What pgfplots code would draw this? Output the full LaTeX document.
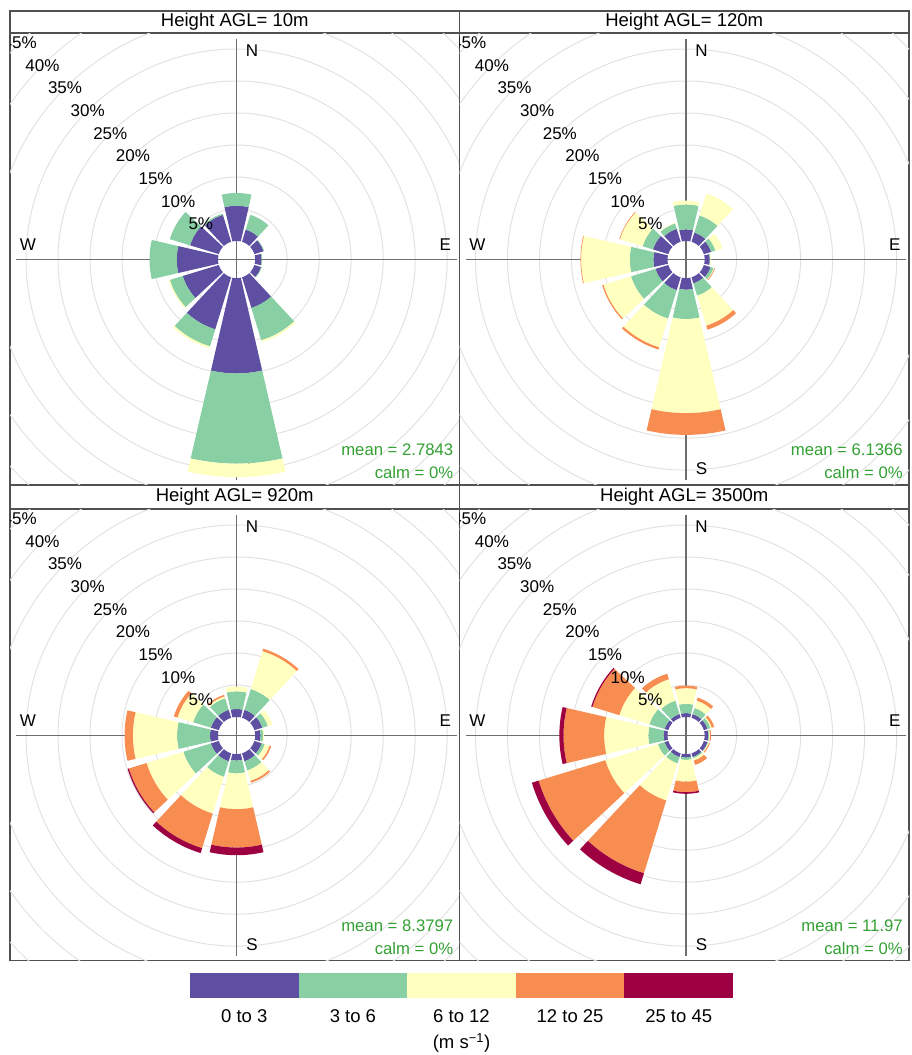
\documentclass[border=0pt]{standalone}
\usepackage{pgfplots}
\pgfplotsset{compat=1.18}
\usepackage{pgfplotstable}
\usepackage{fontspec}
\setmainfont{Liberation Sans}

\definecolor{bin1}{HTML}{5E4FA2}
\definecolor{bin2}{HTML}{88D0A4}
\definecolor{bin3}{HTML}{FFFFBF}
\definecolor{bin4}{HTML}{F88D52}
\definecolor{bin5}{HTML}{9E0142}
\definecolor{ringc}{HTML}{E2E2E2}
\definecolor{crossc}{HTML}{6E6E6E}
\definecolor{framec}{HTML}{505050}
\definecolor{meanc}{HTML}{33A033}

\newcommand\fTitle{\fontsize{18.5}{22}\selectfont}
\newcommand\fLab{\fontsize{17}{20}\selectfont}
\newcommand\fMean{\fontsize{16.7}{20}\selectfont}

% wedge outline (angle offset in degrees, f=1 outer arc, f=0 inner arc)
\pgfplotstableread{
a f
-13 1
-11 1
-9 1
-7 1
-5 1
-3 1
-1 1
1 1
3 1
5 1
7 1
9 1
11 1
13 1
13 0
11 0
9 0
7 0
5 0
3 0
1 0
-1 0
-3 0
-5 0
-7 0
-9 0
-11 0
-13 0
}\arcshape

% cumulative frequency (%) per direction sector: 0-3, 3-6, 6-12, 12-25, 25-45 m/s
\pgfplotstableread{
dir c1 c2 c3 c4 c5
0 5.5 7.5 7.5 7.5 7.5
30 2.0 4.4 4.4 4.4 4.4
60 1.5 1.6 1.6 1.6 1.6
90 1.0 1.1 1.1 1.1 1.1
120 1.1 1.2 1.2 1.2 1.2
150 5.0 10.3 10.6 10.6 10.6
180 14.9 29.0 31.1 31.1 31.1
210 8.5 11.3 11.6 11.6 11.6
240 5.9 8.0 8.2 8.2 8.2
270 6.45 10.7 10.7 10.7 10.7
300 4.7 8.0 8.0 8.0 8.0
330 4.4 4.6 4.6 4.6 4.6
}\tabA

\pgfplotstableread{
dir c1 c2 c3 c4 c5
0 1.8 5.7 6.3 6.3 6.3
30 1.5 4.3 7.85 7.85 7.85
60 1.2 1.9 3.05 3.05 3.05
90 0.8 0.9 1.0 1.0 1.0
120 1.1 1.6 1.7 1.8 1.8
150 1.0 3.0 7.9 8.55 8.55
180 1.8 6.4 21.1 24.5 24.5
210 2.1 6.75 11.45 11.8 11.8
240 2.1 6.1 10.6 10.8 10.8
270 2.2 5.9 13.5 13.6 13.6
300 2.5 4.2 7.9 8.0 8.0
330 2.1 3.0 3.1 3.1 3.1
}\tabB

\pgfplotstableread{
dir c1 c2 c3 c4 c5
0 1.25 4.0 4.75 4.75 4.75
30 1.3 4.7 10.9 11.3 11.3
60 1.3 2.2 2.95 2.95 2.95
90 0.85 1.25 1.4 1.4 1.4
120 1.2 1.7 2.5 2.75 2.75
150 1.3 2.8 4.5 4.8 4.8
180 1.0 3.0 8.6 14.6 15.8
210 1.3 3.85 9.85 15.5 16.3
240 1.3 5.8 11.8 14.7 14.9
270 1.25 6.4 13.3 14.6 14.6
300 1.3 4.2 6.75 7.35 7.35
330 1.3 3.2 3.5 3.75 3.75
}\tabC

\pgfplotstableread{
dir c1 c2 c3 c4 c5
0 0.6 2.05 4.5 4.9 4.9
30 0.6 1.6 2.8 3.3 3.3
60 0.6 1.1 1.3 1.7 1.7
90 0.6 0.7 0.85 1.0 1.0
120 0.6 0.7 0.85 1.0 1.0
150 0.6 0.8 1.2 1.9 1.9
180 0.5 0.9 4.3 5.95 6.2
210 0.6 1.65 7.7 19.6 21.4
240 0.6 1.7 10.3 21.2 22.3
270 0.6 3.0 9.9 16.25 16.9
300 0.6 3.1 8.0 12.4 12.6
330 0.6 2.8 6.3 7.2 7.2
}\tabD

\def\H{2.9}

\newcommand\drawrose[1]{%
  \pgfplotsforeachungrouped \i in {0,...,11}{%
    \pgfplotstablegetelem{\i}{dir}\of#1\let\dd\pgfplotsretval
    \def\prev{0}%
    \pgfplotsforeachungrouped \j in {1,...,5}{%
      \pgfplotstablegetelem{\i}{c\j}\of#1\let\cur\pgfplotsretval
      \pgfmathtruncatemacro\flag{\cur>\prev+0.001}%
      \ifnum\flag=1
        \pgfmathsetmacro\rin{\H+\prev}%
        \pgfmathsetmacro\rout{\H+\cur}%
        \edef\tmp{\noexpand\addplot[fill=bin\j, draw=none, forget plot]
          table[x expr={(\rin+\noexpand\thisrow{f}*(\rout-\rin))*sin(\dd+\noexpand\thisrow{a})},
                y expr={(\rin+\noexpand\thisrow{f}*(\rout-\rin))*cos(\dd+\noexpand\thisrow{a})}]
          {\noexpand\arcshape};}%
        \tmp
      \fi
      \let\prev\cur
    }%
  }%
}

\newcommand\panelbase{%
  \pgfplotsinvokeforeach{5,10,...,45}{\draw[ringc, line width=1pt] (axis cs:0,0) circle[radius={\H+##1}];}
  \draw[crossc, line width=1.5pt] (axis cs:0,-34.4) -- (axis cs:0,34.4);
  \draw[crossc, line width=1.5pt] (axis cs:-34.4,0) -- (axis cs:34.4,0);
  \node[font=\fLab] at (axis cs:2.4,32.6) {N};
  \node[font=\fLab] at (axis cs:32.6,2.4) {E};
  \node[font=\fLab] at (axis cs:2.4,-32.6) {S};
  \node[font=\fLab] at (axis cs:-32.6,2.4) {W};
}
\newcommand\panellabels[1]{%
  \pgfplotsinvokeforeach{5,10,...,45}{\node[font=\fLab] at (axis cs:{-0.7071*(\H+##1)},{0.7071*(\H+##1)}) {##1\%};}
  \node[anchor=east, text=meanc, font=\fMean] at (axis cs:34.4,-29.7) {mean = #1};
  \node[anchor=east, text=meanc, font=\fMean] at (axis cs:34.4,-33.3) {calm = 0\%};
}

\pgfplotsset{rose/.style={scale only axis, width=449.5pt, height=451.5pt,
  xmin=-35.4, xmax=34.83, ymin=-35.15, ymax=35.4, xtick=\empty, ytick=\empty,
  axis line style={draw=framec, line width=1.2pt}, clip=true}}

\begin{document}
\begin{tikzpicture}
\path[use as bounding box] (0pt,0pt) rectangle (911pt,-1055pt);

% strips
\draw[framec, line width=1.2pt] (10pt,-11pt) rectangle (459.5pt,-33pt);
\node[font=\fTitle] at (234.75pt,-22pt) {Height AGL= 10m};
\draw[framec, line width=1.2pt] (459.5pt,-11pt) rectangle (909pt,-33pt);
\node[font=\fTitle] at (684.25pt,-22pt) {Height AGL= 120m};
\draw[framec, line width=1.2pt] (10pt,-485pt) rectangle (459.5pt,-509pt);
\node[font=\fTitle] at (234.75pt,-497pt) {Height AGL= 920m};
\draw[framec, line width=1.2pt] (459.5pt,-485pt) rectangle (909pt,-509pt);
\node[font=\fTitle] at (684.25pt,-497pt) {Height AGL= 3500m};

\begin{axis}[rose, at={(10pt,-33pt)}, anchor=north west]
\panelbase
\drawrose\tabA
\panellabels{2.7843}
\end{axis}

\begin{axis}[rose, at={(459.5pt,-33pt)}, anchor=north west]
\panelbase
\drawrose\tabB
\panellabels{6.1366}
\end{axis}

\begin{axis}[rose, at={(10pt,-509pt)}, anchor=north west]
\panelbase
\drawrose\tabC
\panellabels{8.3797}
\end{axis}

\begin{axis}[rose, at={(459.5pt,-509pt)}, anchor=north west]
\panelbase
\drawrose\tabD
\panellabels{11.97}
\end{axis}

% colour key
\fill[bin1] (190pt,-973pt) rectangle (298.6pt,-998pt);
\fill[bin2] (298.6pt,-973pt) rectangle (407.2pt,-998pt);
\fill[bin3] (407.2pt,-973pt) rectangle (515.8pt,-998pt);
\fill[bin4] (515.8pt,-973pt) rectangle (624.4pt,-998pt);
\fill[bin5] (624.4pt,-973pt) rectangle (733pt,-998pt);
\node[font=\fTitle] at (244.3pt,-1016pt) {0 to 3};
\node[font=\fTitle] at (352.9pt,-1016pt) {3 to 6};
\node[font=\fTitle] at (461.5pt,-1016pt) {6 to 12};
\node[font=\fTitle] at (570.1pt,-1016pt) {12 to 25};
\node[font=\fTitle] at (678.7pt,-1016pt) {25 to 45};
\node[font=\fTitle] at (461.5pt,-1043pt) {(m s\textsuperscript{\char"2212 1})};
\end{tikzpicture}
\end{document}
